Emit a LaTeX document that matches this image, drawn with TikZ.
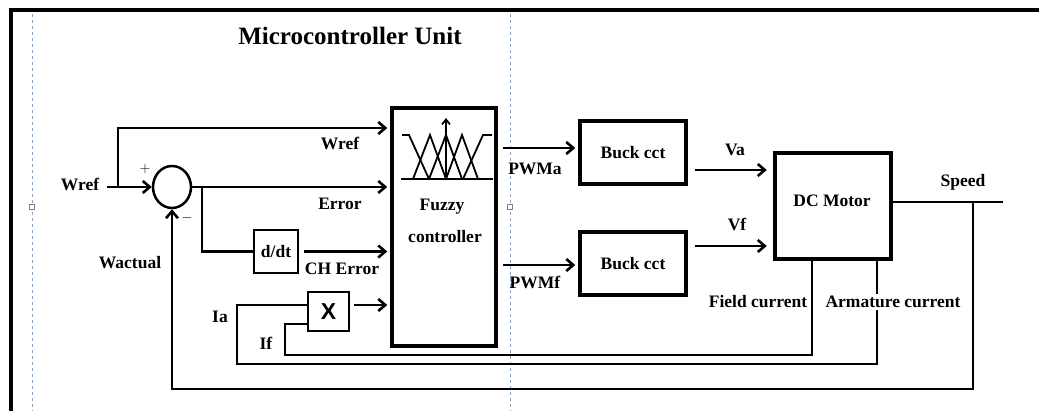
\documentclass[tikz,border=0pt]{standalone}
\usepackage{fontspec}
\setmainfont{Liberation Serif}
\setsansfont{Liberation Sans}
\usetikzlibrary{arrows.meta,shapes.geometric,calc}
\definecolor{guideblue}{RGB}{110,170,235}
\begin{document}
\begin{tikzpicture}[x=1pt,y=-1pt,
  lbl/.style={font=\fontsize{17.5}{20}\selectfont\bfseries, inner sep=0pt},
  conn/.style={line width=2.8pt},
  fb/.style={line width=2.5pt},
  tip/.style={-{Straight Barb[length=7pt,width=12pt,line width=2.6pt]}},
  arr/.style={conn, tip, shorten >=2.5pt},
  thickbox/.style={draw, line width=4.5pt, inner sep=0pt},
  thinbox/.style={draw, line width=2pt, inner sep=0pt},
  guide/.style={draw=guideblue, dash pattern=on 3pt off 3pt, line width=1pt},
  handle/.style={draw=gray, fill=white, minimum size=5pt, inner sep=0pt, line width=0.6pt},
  mf/.style={line width=1.8pt},
]
\useasboundingbox (0,0) rectangle (1039,411);

% frame
\draw[line width=4pt] (11,413) -- (11,10) -- (1041,10);
% guide lines
\draw[guide] (32,14) -- (32,411);
\draw[guide] (510,14) -- (510,411);
\node[handle] (h1) at (32,207) {};
\node[handle] (h2) at (510,207) {};

% title
\node[inner sep=0pt, font=\fontsize{25}{28}\selectfont\bfseries] (title) at (350,36) {Microcontroller Unit};

% blocks
\node[ellipse, draw, line width=2.5pt, minimum width=38pt, minimum height=42pt, inner sep=0pt] (sum) at (172,187) {};
\node[thickbox, minimum width=104pt, minimum height=238pt] (fuzzy) at (444,227) {};
\node[thinbox, lbl, minimum width=44pt, minimum height=43pt] (ddt) at (276,251.5) {d/dt};
\node[thinbox, minimum width=41pt, minimum height=39pt, font=\sffamily\bfseries\fontsize{23}{23}\selectfont] (mult) at (328.5,311.5) {X};
\node[thickbox, lbl, minimum width=106pt, minimum height=63pt] (buck1) at (633,152.5) {Buck cct};
\node[thickbox, lbl, minimum width=106pt, minimum height=63pt] (buck2) at (633,263.5) {Buck cct};
\node[thickbox, minimum width=116pt, minimum height=106pt] (motor) at (833,206) {};
\node[lbl] (motorlbl) at (832,201) {DC Motor};

% fuzzy membership icon
\draw[line width=2pt] (401,179) -- (493,179);
\draw[mf] (402,135) -- (409,135) -- (429,179);
\draw[mf] (413,179) -- (430,135) -- (446,179);
\draw[mf] (429,179) -- (446,135) -- (462,179);
\draw[mf] (446,179) -- (462,135) -- (478,179);
\draw[mf] (463,179) -- (483,135) -- (492,135);
\draw[mf, -{Straight Barb[length=5pt,width=8pt,line width=1.8pt]}] (446,179) -- (446,118);
\node[lbl] (fz1) at (442,207) {Fuzzy};
\node[lbl] (fz2) at (445,237) {controller};

% coordinates
\coordinate (win) at (107,187);
\coordinate (br1) at (118,187);
\coordinate (br2) at (202,187);
\coordinate (yw) at (0,128);
\coordinate (ym) at (0,305);
\coordinate (yf) at (0,324);
\coordinate (iaL) at (237,364);
\coordinate (iaR) at (877,364);
\coordinate (ifL) at (285,355);
\coordinate (ifR) at (812,355);
\coordinate (ys) at (0,202);
\coordinate (spd) at (973,202);
\coordinate (spdEnd) at (1003,202);
\coordinate (fbR) at (973,389);
\coordinate (fbL) at (172,389);
\coordinate (ypa) at (0,148);
\coordinate (ypf) at (0,265);
\coordinate (yva) at (0,170);
\coordinate (yvf) at (0,246);

% connectors into fuzzy controller
\draw[arr, shorten >=0pt] (win) -- (sum.west);
\draw[arr] (br1) |- (fuzzy.west |- yw);
\draw[arr] (sum.east) -- (fuzzy.west |- sum.east);
\draw[conn] (br2) |- (ddt.west);
\draw[arr, shorten <=5pt] (ddt.east) -- (fuzzy.west |- ddt.east);
\draw[arr, shorten <=4pt] (mult.east |- ym) -- (fuzzy.west |- ym);

% fuzzy to buck converters to motor
\draw[arr, shorten <=5pt] (fuzzy.east |- ypa) -- (buck1.west |- ypa);
\draw[arr, shorten <=5pt] (fuzzy.east |- ypf) -- (buck2.west |- ypf);
\draw[arr, shorten <=7pt, shorten >=6pt] (buck1.east |- yva) -- (motor.west |- yva);
\draw[arr, shorten <=7pt, shorten >=6pt] (buck2.east |- yvf) -- (motor.west |- yvf);

% speed output and feedback
\draw[conn] (motor.east |- ys) -- (spdEnd);
\draw[fb, tip] (spd) -- (fbR) -- (fbL) -- (sum.south);

% current feedback
\draw[fb] (mult.west |- ym) -| (iaL) -- (iaR) -- (motor.south -| iaR);
\draw[fb] (mult.west |- yf) -| (ifL) -- (ifR) -- (motor.south -| ifR);

% labels
\node[lbl] (lwin) at (80,184) {Wref};
\node[inner sep=0pt, font=\fontsize{15}{15}\selectfont] (plus) at (145,169) {$+$};
\node[inner sep=0pt, font=\fontsize{15}{15}\selectfont] (minus) at (187,218) {$-$};
\node[lbl] (lwref) at (340,143) {Wref};
\node[lbl] (lerr) at (340,204) {Error};
\node[lbl] (lche) at (342,269) {CH Error};
\node[lbl] (lwact) at (130,263) {Wactual};
\node[lbl] (lia) at (220,317) {Ia};
\node[lbl] (lif) at (266,343) {If};
\node[lbl] (lpwma) at (535,169) {PWMa};
\node[lbl] (lpwmf) at (535,282) {PWMf};
\node[lbl] (lva) at (735,150) {Va};
\node[lbl] (lvf) at (737,224) {Vf};
\node[lbl] (lspd) at (963,182) {Speed};
\node[lbl] (lfc) at (758,302) {Field current};
\node[lbl, fill=white, inner sep=2pt] (lac) at (893,302) {Armature current};
\end{tikzpicture}
\end{document}
